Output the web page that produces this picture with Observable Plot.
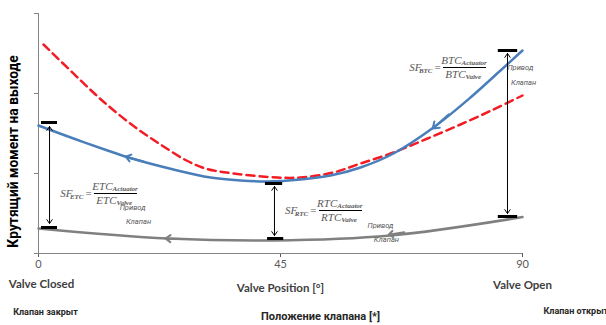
<!DOCTYPE html>
<html><head><meta charset="utf-8">
<script src="https://cdn.jsdelivr.net/npm/d3@7"></script>
<script src="https://cdn.jsdelivr.net/npm/@observablehq/plot@0.6"></script>
<style>body{margin:0;background:#fff} svg{display:block}</style>
</head><body><div id="chart"></div>
<script>
// ---- data ----
const xTicks = [0, 45, 90];
const yTicks = [0, 1, 2, 3];

const blueX = [0, 6.51, 12.83, 16.74, 25.1, 31.98, 37.56, 42.58, 48.72, 54.3, 59.88, 66.01, 73.45, 80.33, 85.91, 90];
const blueY = [1.6, 1.4375, 1.2875, 1.2, 1.05, 0.95, 0.9125, 0.9, 0.925, 0.975, 1.075, 1.25, 1.575, 1.95, 2.2875, 2.5375];

const redX = [0.93, 10.6, 13.57, 18.04, 22.69, 27.52, 31.05, 36.26, 44.44, 48.72, 54.85, 59.88, 66.01, 72.33, 78.47, 84.61, 90];
const redY = [2.6125, 1.9875, 1.8125, 1.575, 1.3625, 1.1625, 1.0625, 1.0, 0.95, 0.95, 1.0125, 1.125, 1.2625, 1.4375, 1.6125, 1.8, 1.975];

const grayX = [0, 23.99, 43.7, 65.45, 90];
const grayY = [0.3125, 0.1875, 0.1625, 0.225, 0.455];

// direction arrows drawn on the curves (tail -> tip)
const curveArrowSeries = ["blue", "blue", "gray", "gray"];
const curveArrowX1 = [19.5, 76.3, 27.0, 68.0];
const curveArrowY1 = [1.15, 1.74, 0.18, 0.265];
const curveArrowX2 = [16.2, 73.3, 23.6, 65.1];
const curveArrowY2 = [1.21, 1.5625, 0.1875, 0.235];

// black safety-factor markers
const barX1 = [0.56, 0.56, 42.2, 42.6, 85.5, 85.5];
const barX2 = [3.53, 3.53, 45.4, 45.6, 89.1, 89.1];
const barY = [1.6375, 0.325, 0.875, 0.1875, 2.5375, 0.4625];

const dArrowX = [2.05, 43.88, 87.21];
const dArrowTop = [1.5875, 0.8375, 2.5];
const dArrowBottom = [0.375, 0.225, 0.5];

// formulas SF_xxx = xxx_Actuator / xxx_Valve  (anchored on "=")
const fNames = ["ETC", "RTC", "BTC"];
const fX = [9.3, 51.1, 74.2];
const fY = [0.75, 0.5375, 2.325];
const fLineX1 = [10.4, 52.25, 75.3];
const fLineX2 = [18.4, 60.25, 83.3];
const fSF = "SF", fEq = "=", fTopSub = "Actuator", fBotSub = "Valve";

const valveLabels = ["Привод", "Клапан", "Привод", "Клапан", "Привод", "Клапан"];
const valveLabelX = [17.5, 18.6, 63.6, 64.7, 89.6, 90.2];
const valveLabelY = [0.575, 0.40, 0.35, 0.175, 2.325, 2.14];

const yLabel = "Крутящий момент на выходе";
const row1 = ["Valve Closed", "Valve Position [°]", "Valve Open"];
const row2 = ["Клапан закрыт", "Положение клапана [*]", "Клапан открыт"];

// ---- build tables ----
const zip = (xs, ys) => xs.map((x, i) => ({x, y: ys[i]}));
const blue = zip(blueX, blueY), red = zip(redX, redY), gray = zip(grayX, grayY);
const curveArrows = curveArrowSeries.map((s, i) => ({s, x1: curveArrowX1[i], y1: curveArrowY1[i], x2: curveArrowX2[i], y2: curveArrowY2[i]}));
const bars = barY.map((y, i) => ({y, x1: barX1[i], x2: barX2[i]}));
const dArrows = dArrowX.map((x, i) => ({x, top: dArrowTop[i], bottom: dArrowBottom[i], mid: (dArrowTop[i] + dArrowBottom[i]) / 2}));
const formulas = fNames.map((n, i) => ({n, x: fX[i], y: fY[i], x1: fLineX1[i], x2: fLineX2[i]}));
const vLabels = valveLabels.map((t, i) => ({t, x: valveLabelX[i], y: valveLabelY[i]}));

const BLUE = "#4a7ebb", RED = "#f41c24", GRAY = "#808080", AX = "#868686", TXT = "#595959";
const serif = "Liberation Serif", CYR = "Roboto";
const fbase = {x: "x", y: "y", fontFamily: serif, fontStyle: "italic", fill: TXT};
const bottomText = {x: d => d, frameAnchor: "bottom", lineAnchor: "middle", fontWeight: "bold"};

const chart = Plot.plot({
  width: 606, height: 325,
  marginLeft: 38, marginRight: 84, marginTop: 13, marginBottom: 72,
  style: {fontFamily: "Lato", fontSize: "11px", background: "#fff"},
  x: {domain: [0, 90]},
  y: {domain: [0, 3]},
  marks: [
    Plot.axisY({ticks: yTicks, tickSize: 4, tickFormat: () => "", label: null, color: AX}),
    Plot.axisX({ticks: xTicks, tickSize: 4, tickPadding: 3, label: null, color: TXT, fontSize: 11}),
    Plot.ruleX([0], {stroke: AX}),
    Plot.ruleY([0], {stroke: AX}),
    Plot.line(gray, {x: "x", y: "y", curve: "catmull-rom", stroke: GRAY, strokeWidth: 2.5}),
    Plot.line(red, {x: "x", y: "y", curve: "catmull-rom", stroke: RED, strokeWidth: 2.5, strokeDasharray: "8,5"}),
    Plot.line(blue, {x: "x", y: "y", curve: "catmull-rom", stroke: BLUE, strokeWidth: 2.5}),
    Plot.arrow(curveArrows, {x1: "x1", y1: "y1", x2: "x2", y2: "y2", stroke: d => d.s === "blue" ? BLUE : GRAY, strokeWidth: 2, headLength: 9, headAngle: 70}),
    Plot.ruleY(bars, {y: "y", x1: "x1", x2: "x2", stroke: "#000", strokeWidth: 3}),
    Plot.arrow(dArrows, {x1: "x", y1: "mid", x2: "x", y2: "top", stroke: "#000", strokeWidth: 1, headLength: 7, headAngle: 70}),
    Plot.arrow(dArrows, {x1: "x", y1: "mid", x2: "x", y2: "bottom", stroke: "#000", strokeWidth: 1, headLength: 7, headAngle: 70}),
    // formulas
    Plot.text(formulas, {...fbase, text: () => fSF, textAnchor: "end", dx: -16, fontSize: 11}),
    Plot.text(formulas, {...fbase, text: "n", textAnchor: "end", dx: -5, dy: 3, fontSize: 7, fontWeight: "bold"}),
    Plot.text(formulas, {...fbase, fontStyle: "normal", text: () => fEq, dx: 0, fontSize: 11}),
    Plot.text(formulas, {...fbase, text: "n", textAnchor: "end", dx: 24, dy: -7, fontSize: 11}),
    Plot.text(formulas, {...fbase, text: () => fTopSub, textAnchor: "start", dx: 24, dy: -5, fontSize: 7, fontWeight: "bold"}),
    Plot.ruleY(formulas, {y: "y", x1: "x1", x2: "x2", stroke: "#000", strokeWidth: 1}),
    Plot.text(formulas, {...fbase, text: "n", textAnchor: "end", dx: 28, dy: 7, fontSize: 11}),
    Plot.text(formulas, {...fbase, text: () => fBotSub, textAnchor: "start", dx: 28, dy: 9, fontSize: 7, fontWeight: "bold"}),
    Plot.text(vLabels, {x: "x", y: "y", text: "t", fontFamily: CYR, fontStyle: "italic", fontSize: 7.5, fill: TXT}),
    // axis titles
    Plot.text([yLabel], {text: d => d, frameAnchor: "left", textAnchor: "middle", lineAnchor: "middle", rotate: -90, dx: -25, dy: 18, fontFamily: CYR, fontSize: 13.8, fontWeight: "bold", fill: "#000"}),
    Plot.text([0], {...bottomText, text: () => row1[0], textAnchor: "middle", dx: 3, dy: 31, fontSize: 11.5, fill: "#404040"}),
    Plot.text([45], {...bottomText, text: () => row1[1], textAnchor: "middle", dy: 35, fontSize: 11.5, fill: "#404040"}),
    Plot.text([90], {...bottomText, text: () => row1[2], textAnchor: "middle", dy: 32, fontSize: 11.5, fill: "#404040"}),
    Plot.text([0], {...bottomText, text: () => row2[0], textAnchor: "middle", dx: 7, dy: 59, fontFamily: CYR, fontSize: 9, fill: "#262626"}),
    Plot.text([45], {...bottomText, text: () => row2[1], textAnchor: "middle", dx: 40, dy: 63, fontFamily: CYR, fontSize: 11, fill: "#262626"}),
    Plot.text([90], {...bottomText, text: () => row2[2], textAnchor: "start", dx: 21, dy: 58, fontFamily: CYR, fontSize: 9, fill: "#262626"})
  ]
});
document.getElementById("chart").appendChild(chart);
</script>
</body></html>
